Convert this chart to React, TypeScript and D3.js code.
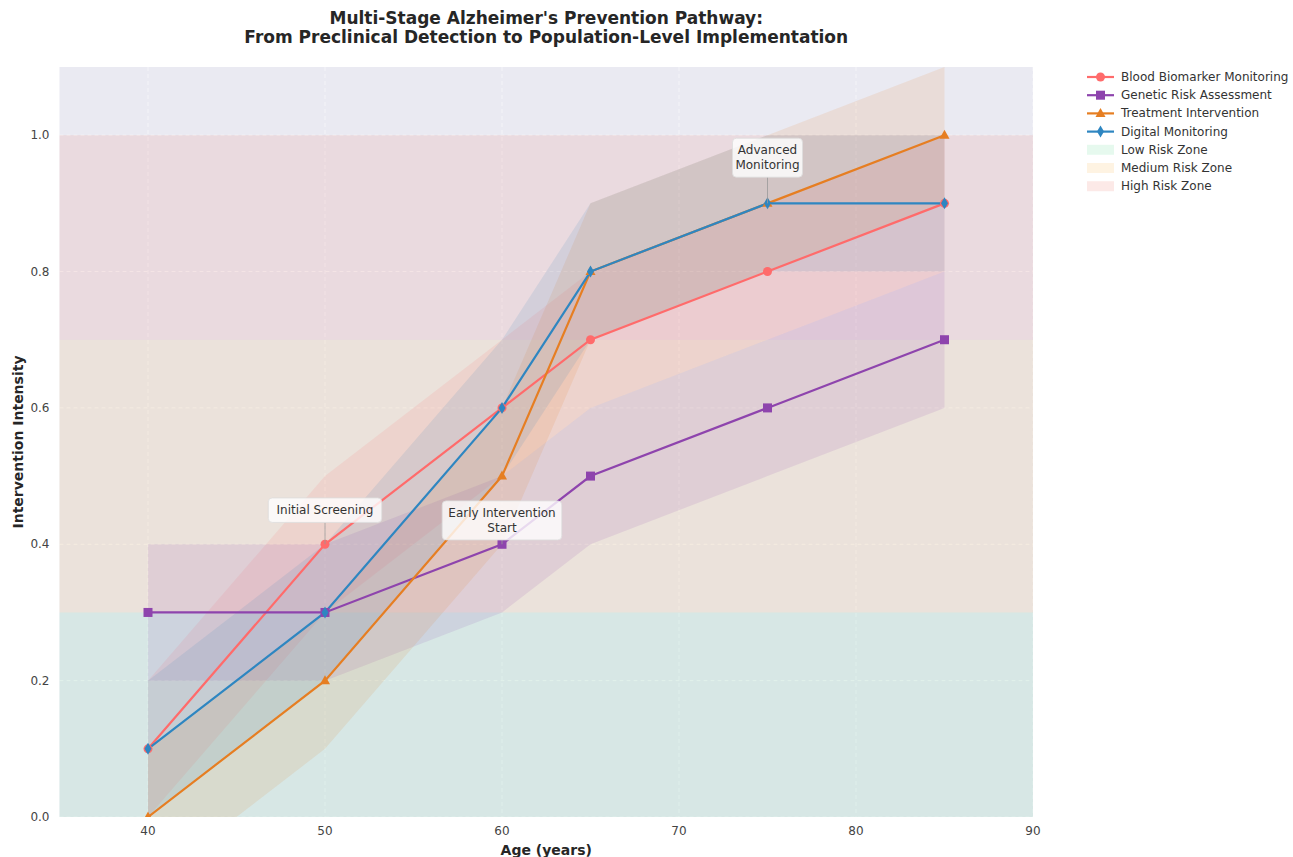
import React from "react";
import * as d3 from "d3";

const ages = [40, 50, 60, 65, 75, 85];
const bloodValues = [0.1, 0.4, 0.6, 0.7, 0.8, 0.9];
const geneticValues = [0.3, 0.3, 0.4, 0.5, 0.6, 0.7];
const treatmentValues = [0.0, 0.2, 0.5, 0.8, 0.9, 1.0];
const digitalValues = [0.1, 0.3, 0.6, 0.8, 0.9, 0.9];
const bandWidth = [0.1, 0.1, 0.1, 0.1, 0.1, 0.1];

const seriesNames = [
  "Blood Biomarker Monitoring",
  "Genetic Risk Assessment",
  "Treatment Intervention",
  "Digital Monitoring",
];
const seriesColors = ["#FF6B6B", "#8E44AD", "#E67E22", "#2E86C1"];
const seriesMarkers = ["circle", "square", "triangle", "diamond"];

const zoneNames = ["Low Risk Zone", "Medium Risk Zone", "High Risk Zone"];
const zoneRanges: [number, number][] = [[0, 0.3], [0.3, 0.7], [0.7, 1.0]];
const zoneColors = ["#2ecc71", "#f39c12", "#e74c3c"];

const xTicks = [40, 50, 60, 70, 80, 90];
const yTicks = [0, 0.2, 0.4, 0.6, 0.8, 1.0];

const annotations = [
  { lines: ["Initial Screening"], x: 50, y: 0.4, tx: 50, ty: 0.45 },
  { lines: ["Early Intervention", "Start"], x: 60, y: 0.4, tx: 60, ty: 0.435 },
  { lines: ["Advanced", "Monitoring"], x: 75, y: 0.9, tx: 75, ty: 0.967 },
];

const W = 1293;
const H = 857;
const left = 59.5;
const right = 1033;
const top = 67;
const bottom = 817;
const FONT = "'DejaVu Sans', sans-serif";

function Marker({ type, x, y, color }: { type: string; x: number; y: number; color: string }) {
  if (type === "circle") return <circle cx={x} cy={y} r={4.5} fill={color} />;
  if (type === "square") return <rect x={x - 4.5} y={y - 4.5} width={9} height={9} fill={color} />;
  if (type === "triangle")
    return <path d={`M${x},${y - 5.5} L${x + 5},${y + 3.5} L${x - 5},${y + 3.5} Z`} fill={color} />;
  return <path d={`M${x},${y - 6} L${x + 3.5},${y} L${x},${y + 6} L${x - 3.5},${y} Z`} fill={color} />;
}

export default function App() {
  const x = d3.scaleLinear().domain([35, 90]).range([left, right]);
  const y = d3.scaleLinear().domain([0, 1.1]).range([bottom, top]);
  const allSeries = [bloodValues, geneticValues, treatmentValues, digitalValues];

  const line = d3
    .line<number>()
    .x((_, i) => x(ages[i]))
    .y((d) => y(d));
  const area = d3
    .area<number>()
    .x((_, i) => x(ages[i]))
    .y0((d, i) => y(d - bandWidth[i]))
    .y1((d, i) => y(d + bandWidth[i]));

  const legendX = 1087;
  const legendY0 = 77;
  const legendStep = 18.2;

  return (
    <svg width={W} height={H} style={{ position: "absolute", left: 0, top: 0, background: "#fff" }} fontFamily={FONT}>
      <defs>
        <clipPath id="plotclip">
          <rect x={left} y={top} width={right - left} height={bottom - top} />
        </clipPath>
      </defs>
      <rect x={left} y={top} width={right - left} height={bottom - top} fill="#EAEAF2" />
      {/* grid */}
      {xTicks.map((t) => (
        <line key={"gx" + t} x1={x(t)} x2={x(t)} y1={top} y2={bottom} stroke="#fff" strokeWidth={0.8} strokeDasharray="4,3" opacity={0.7} />
      ))}
      {yTicks.map((t) => (
        <line key={"gy" + t} x1={left} x2={right} y1={y(t)} y2={y(t)} stroke="#fff" strokeWidth={0.8} strokeDasharray="4,3" opacity={0.7} />
      ))}
      {/* zones */}
      {zoneRanges.map((r, i) => (
        <rect key={"z" + i} x={left} width={right - left} y={y(r[1])} height={y(r[0]) - y(r[1])} fill={zoneColors[i]} opacity={0.1} />
      ))}
      <g clipPath="url(#plotclip)">
        {allSeries.map((s, i) => (
          <path key={"a" + i} d={area(s) || ""} fill={seriesColors[i]} opacity={0.12} />
        ))}
        {allSeries.map((s, i) => (
          <path key={"l" + i} d={line(s) || ""} fill="none" stroke={seriesColors[i]} strokeWidth={2.2} />
        ))}
        {allSeries.map((s, i) =>
          s.map((v, j) => <Marker key={"m" + i + "-" + j} type={seriesMarkers[i]} x={x(ages[j])} y={y(v)} color={seriesColors[i]} />)
        )}
      </g>
      {/* annotations */}
      {annotations.map((a, i) => {
        const cx = x(a.tx);
        const cy = y(a.ty);
        const lh = 14.5;
        const widest = Math.max(...a.lines.map((l) => l.length));
        const bw = widest * 6.2 + 8;
        const bh = a.lines.length * lh + 10;
        const by = cy - bh / 2;
        const py = y(a.y);
        return (
          <g key={"an" + i}>
            {py > by + bh && (
              <line x1={x(a.x)} x2={x(a.x)} y1={by + bh} y2={py} stroke="#999" strokeWidth={0.8} />
            )}
            {py < by && <line x1={x(a.x)} x2={x(a.x)} y1={by} y2={py} stroke="#999" strokeWidth={0.8} />}
            <rect x={cx - bw / 2} y={by} width={bw} height={bh} rx={4} fill="#fff" fillOpacity={0.8} stroke="#ddd" strokeWidth={0.8} />
            {a.lines.map((l, k) => (
              <text key={k} x={cx} y={by + 5 + lh * k + lh / 2} textAnchor="middle" dominantBaseline="central" fontSize={12} fill="#333">
                {l}
              </text>
            ))}
          </g>
        );
      })}
      {/* ticks */}
      {xTicks.map((t) => (
        <text key={"xt" + t} x={x(t)} y={bottom + 14} textAnchor="middle" dominantBaseline="central" fontSize={12} fill="#444">
          {t}
        </text>
      ))}
      {yTicks.map((t) => (
        <text key={"yt" + t} x={left - 10} y={y(t)} textAnchor="end" dominantBaseline="central" fontSize={12} fill="#444">
          {t.toFixed(1)}
        </text>
      ))}
      {/* axis labels */}
      <text x={(left + right) / 2} y={850} textAnchor="middle" dominantBaseline="central" fontSize={14} fontWeight="bold" fill="#262626">
        Age (years)
      </text>
      <text
        transform={`translate(18,${(top + bottom) / 2}) rotate(-90)`}
        textAnchor="middle"
        dominantBaseline="central"
        fontSize={14}
        fontWeight="bold"
        fill="#262626"
      >
        Intervention Intensity
      </text>
      {/* title */}
      <text x={(left + right) / 2} y={18} textAnchor="middle" dominantBaseline="central" fontSize={17} fontWeight="bold" fill="#262626">
        Multi-Stage Alzheimer's Prevention Pathway:
      </text>
      <text x={(left + right) / 2} y={37} textAnchor="middle" dominantBaseline="central" fontSize={17} fontWeight="bold" fill="#262626">
        From Preclinical Detection to Population-Level Implementation
      </text>
      {/* legend */}
      {seriesNames.map((n, i) => {
        const ly = legendY0 + i * legendStep;
        return (
          <g key={"lg" + i}>
            <line x1={legendX} x2={legendX + 27} y1={ly} y2={ly} stroke={seriesColors[i]} strokeWidth={2.2} />
            <Marker type={seriesMarkers[i]} x={legendX + 13.5} y={ly} color={seriesColors[i]} />
            <text x={legendX + 34} y={ly} dominantBaseline="central" fontSize={12} fill="#333">
              {n}
            </text>
          </g>
        );
      })}
      {zoneNames.map((n, i) => {
        const ly = legendY0 + (i + 4) * legendStep;
        return (
          <g key={"lz" + i}>
            <rect x={legendX} y={ly - 5} width={27} height={10} fill={zoneColors[i]} opacity={0.12} />
            <text x={legendX + 34} y={ly} dominantBaseline="central" fontSize={12} fill="#333">
              {n}
            </text>
          </g>
        );
      })}
    </svg>
  );
}
